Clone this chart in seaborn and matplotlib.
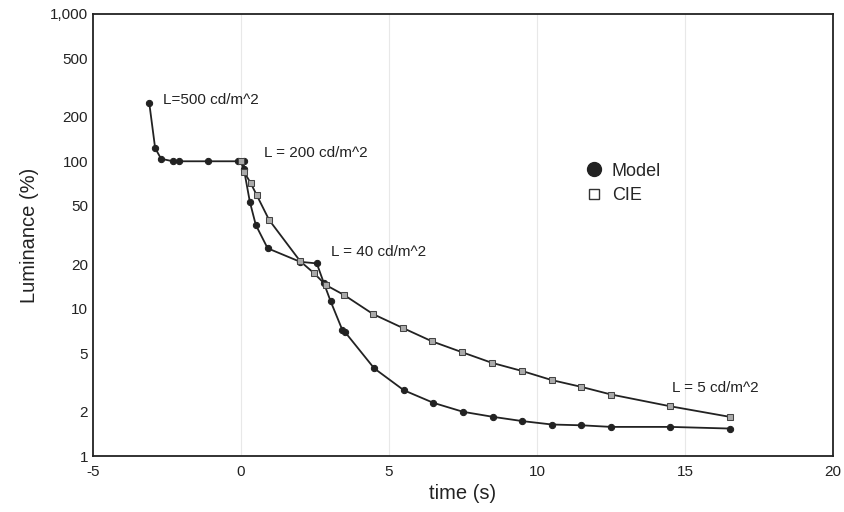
import numpy as np
import pandas as pd
import seaborn as sns
import matplotlib.pyplot as plt
from matplotlib.ticker import FixedLocator, FuncFormatter, LogLocator, NullFormatter

# Model (filled circles)
model_t = [-3.1, -2.9, -2.7, -2.3, -2.1, -1.1, -0.1, 0.1, 0.1, 0.3, 0.5, 0.9, 2.0, 2.56,
           2.8, 3.03, 3.42, 3.5, 4.5, 5.5, 6.5, 7.5, 8.5, 9.5, 10.5, 11.5, 12.5, 14.5, 16.5]
model_lum = [250, 123, 104, 100, 100, 100, 100, 100, 88, 53, 37, 25.7, 20.8, 20.3,
             14.9, 11.2, 7.2, 7.0, 3.94, 2.8, 2.3, 2.0, 1.85, 1.73, 1.64, 1.62, 1.58, 1.58, 1.54]

# CIE (open squares)
cie_t = [0.0, 0.1, 0.33, 0.53, 0.95, 2.0, 2.47, 2.86, 3.48, 4.46, 5.47, 6.46, 7.48,
         8.47, 9.5, 10.5, 11.5, 12.5, 14.5, 16.5]
cie_lum = [100, 85, 71, 59, 40, 21, 17.4, 14.5, 12.4, 9.2, 7.4, 6.0, 5.06,
           4.3, 3.78, 3.28, 2.95, 2.62, 2.18, 1.85]

labels = ["L=500 cd/m^2", "L = 200 cd/m^2", "L = 40 cd/m^2", "L = 5 cd/m^2"]
label_t = [-2.65, 0.78, 3.05, 14.55]
label_lum = [262, 114, 24.3, 2.9]

y_ticks = [1, 2, 5, 10, 20, 50, 100, 200, 500, 1000]

sns.set_style("white")
plt.rcParams['font.family'] = ['Liberation Sans', 'DejaVu Sans']
plt.rcParams['axes.unicode_minus'] = False

fig = plt.figure(figsize=(8.45, 5.12), dpi=100)
ax = fig.add_axes([0.110, 0.109, 0.876, 0.864])

for x in [0, 5, 10, 15]:
    ax.axvline(x, color='#e8e8e8', lw=0.8, zorder=0)

sns.lineplot(x=model_t, y=model_lum, sort=False, estimator=None, color='#222222', lw=1.3,
             marker='o', markersize=4.5, markerfacecolor='#222222', markeredgecolor='#222222',
             ax=ax, zorder=3)
sns.lineplot(x=cie_t, y=cie_lum, sort=False, estimator=None, color='#222222', lw=1.3,
             marker='s', markersize=4.2, markerfacecolor='#aaaaaa', markeredgecolor='#444444',
             ax=ax, zorder=3)

ax.set_yscale('log')
ax.set_xlim(-5, 20)
ax.set_ylim(1, 1000)
ax.set_xticks([-5, 0, 5, 10, 15, 20])
ax.yaxis.set_major_locator(FixedLocator(y_ticks))
ax.yaxis.set_major_formatter(FuncFormatter(lambda v, p: f"{int(v):,}"))
ax.yaxis.set_minor_locator(LogLocator(base=10, subs=[3, 4, 6, 7, 8, 9]))
ax.yaxis.set_minor_formatter(NullFormatter())
ax.tick_params(axis='both', direction='in', labelsize=11, colors='#222222', length=5, width=0.8)
ax.tick_params(axis='y', which='minor', direction='in', length=3, width=0.6)
ax.tick_params(axis='y', which='major', length=7)
ax.tick_params(axis='x', pad=6)

for s in ax.spines.values():
    s.set_color('#222222')
    s.set_linewidth(1.3)

for txt, t, v in zip(labels, label_t, label_lum):
    ax.text(t, v, txt, fontsize=11, va='center', ha='left', color='#222222')

ax.set_xlabel("time (s)", fontsize=14.5, color='#222222', labelpad=4)
ax.set_ylabel("Luminance (%)", fontsize=14.5, color='#222222', labelpad=8)

ax.plot([], [], 'o', color='#222222', markersize=10, label='Model')
ax.plot([], [], 's', markerfacecolor='white', markeredgecolor='#333333', markersize=7, label='CIE')
handles, lbls = ax.get_legend_handles_labels()
ax.legend(handles[-2:], lbls[-2:], loc='upper left', bbox_to_anchor=(0.645, 0.70), frameon=False,
          fontsize=13, handlelength=0.8, handletextpad=0.6, labelspacing=0.4)

fig.savefig("out.png", dpi=100)
